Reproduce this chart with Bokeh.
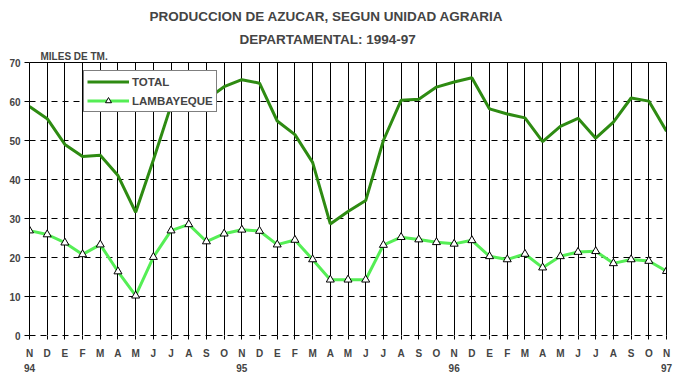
from bokeh.plotting import figure
from bokeh.models import (Range1d, FixedTicker, LinearAxis, Legend, LegendItem, Title)
from bokeh.embed import file_html
from bokeh.resources import INLINE

months = ["N", "D", "E", "F", "M", "A", "M", "J", "J", "A", "S", "O"] * 3 + ["N"]
years = ["94", "95", "96", "97"]
year_pos = [0, 12, 24, 36]
total = [58.7, 55.6, 49.0, 45.9, 46.2, 41.0, 31.6, 45.0, 59.0, 67.0, 60.5, 63.8,
         65.6, 64.7, 55.0, 51.5, 44.4, 28.6, 31.8, 34.6, 50.0, 60.3, 60.6, 63.7,
         65.0, 66.1, 58.1, 56.8, 55.8, 49.7, 53.6, 55.7, 50.6, 54.7, 60.9, 60.1,
         52.4]
lambayeque = [26.9, 25.9, 23.8, 20.8, 23.3, 16.4, 10.2, 20.1, 26.9, 28.5, 24.1, 26.1,
              27.1, 26.8, 23.3, 24.5, 19.5, 14.3, 14.3, 14.3, 23.2, 25.2, 24.6, 23.9,
              23.5, 24.4, 20.3, 19.5, 20.9, 17.4, 20.3, 21.4, 21.6, 18.5, 19.5, 19.1,
              16.5]
y_ticks = [0, 10, 20, 30, 40, 50, 60, 70]
x = list(range(len(months)))

FONT = "Liberation Sans"
DARK = "#2E8B12"
LIGHT = "#55EE55"

p = figure(width=678, height=383, x_range=Range1d(0, len(months) - 1),
           y_range=Range1d(0, 70), output_backend="svg", toolbar_location=None,
           min_border_left=29, min_border_right=12, min_border_top=62,
           min_border_bottom=48, x_axis_location=None, y_axis_location=None,
           title=None)
p.outline_line_color = None
p.background_fill_color = "white"
p.border_fill_color = "white"

# bottom axis: month letters, dashed line at 0
xa = LinearAxis(ticker=FixedTicker(ticks=x),
                major_label_overrides={i: m for i, m in enumerate(months)})
xa.axis_line_dash = "6 5"
xa.axis_line_color = "black"
xa.major_tick_out = 4
xa.major_tick_in = 0
xa.major_tick_line_color = "black"
xa.minor_tick_line_color = None
xa.major_label_standoff = 8
xa.major_label_text_font = FONT
xa.major_label_text_font_style = "bold"
xa.major_label_text_font_size = "10px"
p.add_layout(xa, "below")

ya2 = LinearAxis(ticker=FixedTicker(ticks=year_pos),
                 major_label_overrides={pos: y for pos, y in zip(year_pos, years)})
ya2.axis_line_color = None
ya2.major_tick_line_color = None
ya2.minor_tick_line_color = None
ya2.major_tick_out = 0
ya2.major_label_standoff = 2
ya2.major_label_text_font = FONT
ya2.major_label_text_font_style = "bold"
ya2.major_label_text_font_size = "10px"
p.add_layout(ya2, "below")

ya = LinearAxis(ticker=FixedTicker(ticks=y_ticks))
ya.axis_line_color = "black"
ya.major_tick_out = 5
ya.major_tick_in = 0
ya.minor_tick_line_color = None
ya.major_label_standoff = 4
ya.major_label_text_font = FONT
ya.major_label_text_font_style = "bold"
ya.major_label_text_font_size = "10px"
p.add_layout(ya, "left")

ra = LinearAxis(ticker=FixedTicker(ticks=[]))
ra.axis_line_color = "black"
ra.major_tick_line_color = None
ra.minor_tick_line_color = None
ra.major_tick_out = 0
ra.major_label_standoff = 0
ra.major_label_text_font_size = "0px"
p.add_layout(ra, "right")

ta = LinearAxis(ticker=FixedTicker(ticks=[]))
ta.axis_line_color = "black"
ta.major_tick_line_color = None
ta.minor_tick_line_color = None
ta.major_tick_out = 0
ta.major_label_standoff = 0
ta.major_label_text_font_size = "0px"
p.add_layout(ta, "above")

p.xgrid.ticker = FixedTicker(ticks=x)
p.xgrid.grid_line_color = "black"
p.xgrid.grid_line_alpha = 1
p.xgrid.grid_line_width = 1
p.ygrid.ticker = FixedTicker(ticks=[10, 20, 30, 40, 50, 60])
p.ygrid.grid_line_color = "black"
p.ygrid.grid_line_alpha = 1
p.ygrid.grid_line_dash = "6 5"

r_tot = p.line(x, total, line_color=DARK, line_width=3)
r_lam = p.line(x, lambayeque, line_color=LIGHT, line_width=3)
r_pts = p.scatter(x, lambayeque, marker="triangle", size=8, fill_color="white",
                  line_color="black", line_width=1)

legend = Legend(items=[LegendItem(label="TOTAL", renderers=[r_tot]),
                       LegendItem(label="LAMBAYEQUE", renderers=[r_lam, r_pts])],
                location=(54, 223))
legend.border_line_color = "black"
legend.border_line_width = 1
legend.background_fill_color = "white"
legend.background_fill_alpha = 1
legend.label_text_font = FONT
legend.label_text_font_style = "bold"
legend.label_text_font_size = "11.5px"
legend.glyph_width = 42
legend.glyph_height = 15
legend.label_height = 15
legend.padding = 3
legend.spacing = 4
legend.margin = 0
legend.label_standoff = 3
p.add_layout(legend)

unit = Title(text="MILES DE TM.", align="left", offset=11, standoff=2,
             text_font=FONT, text_font_style="bold", text_font_size="10px")
title2 = Title(text="DEPARTAMENTAL: 1994-97", align="left", offset=210, standoff=1,
               text_font=FONT, text_font_style="bold", text_font_size="13.5px")
title1 = Title(text="PRODUCCION DE AZUCAR, SEGUN UNIDAD AGRARIA", align="left",
               offset=120, standoff=11, text_font=FONT, text_font_style="bold",
               text_font_size="13.5px")
p.add_layout(unit, "above")
p.add_layout(title2, "above")
p.add_layout(title1, "above")

open("out.html", "w").write(file_html(p, INLINE))
